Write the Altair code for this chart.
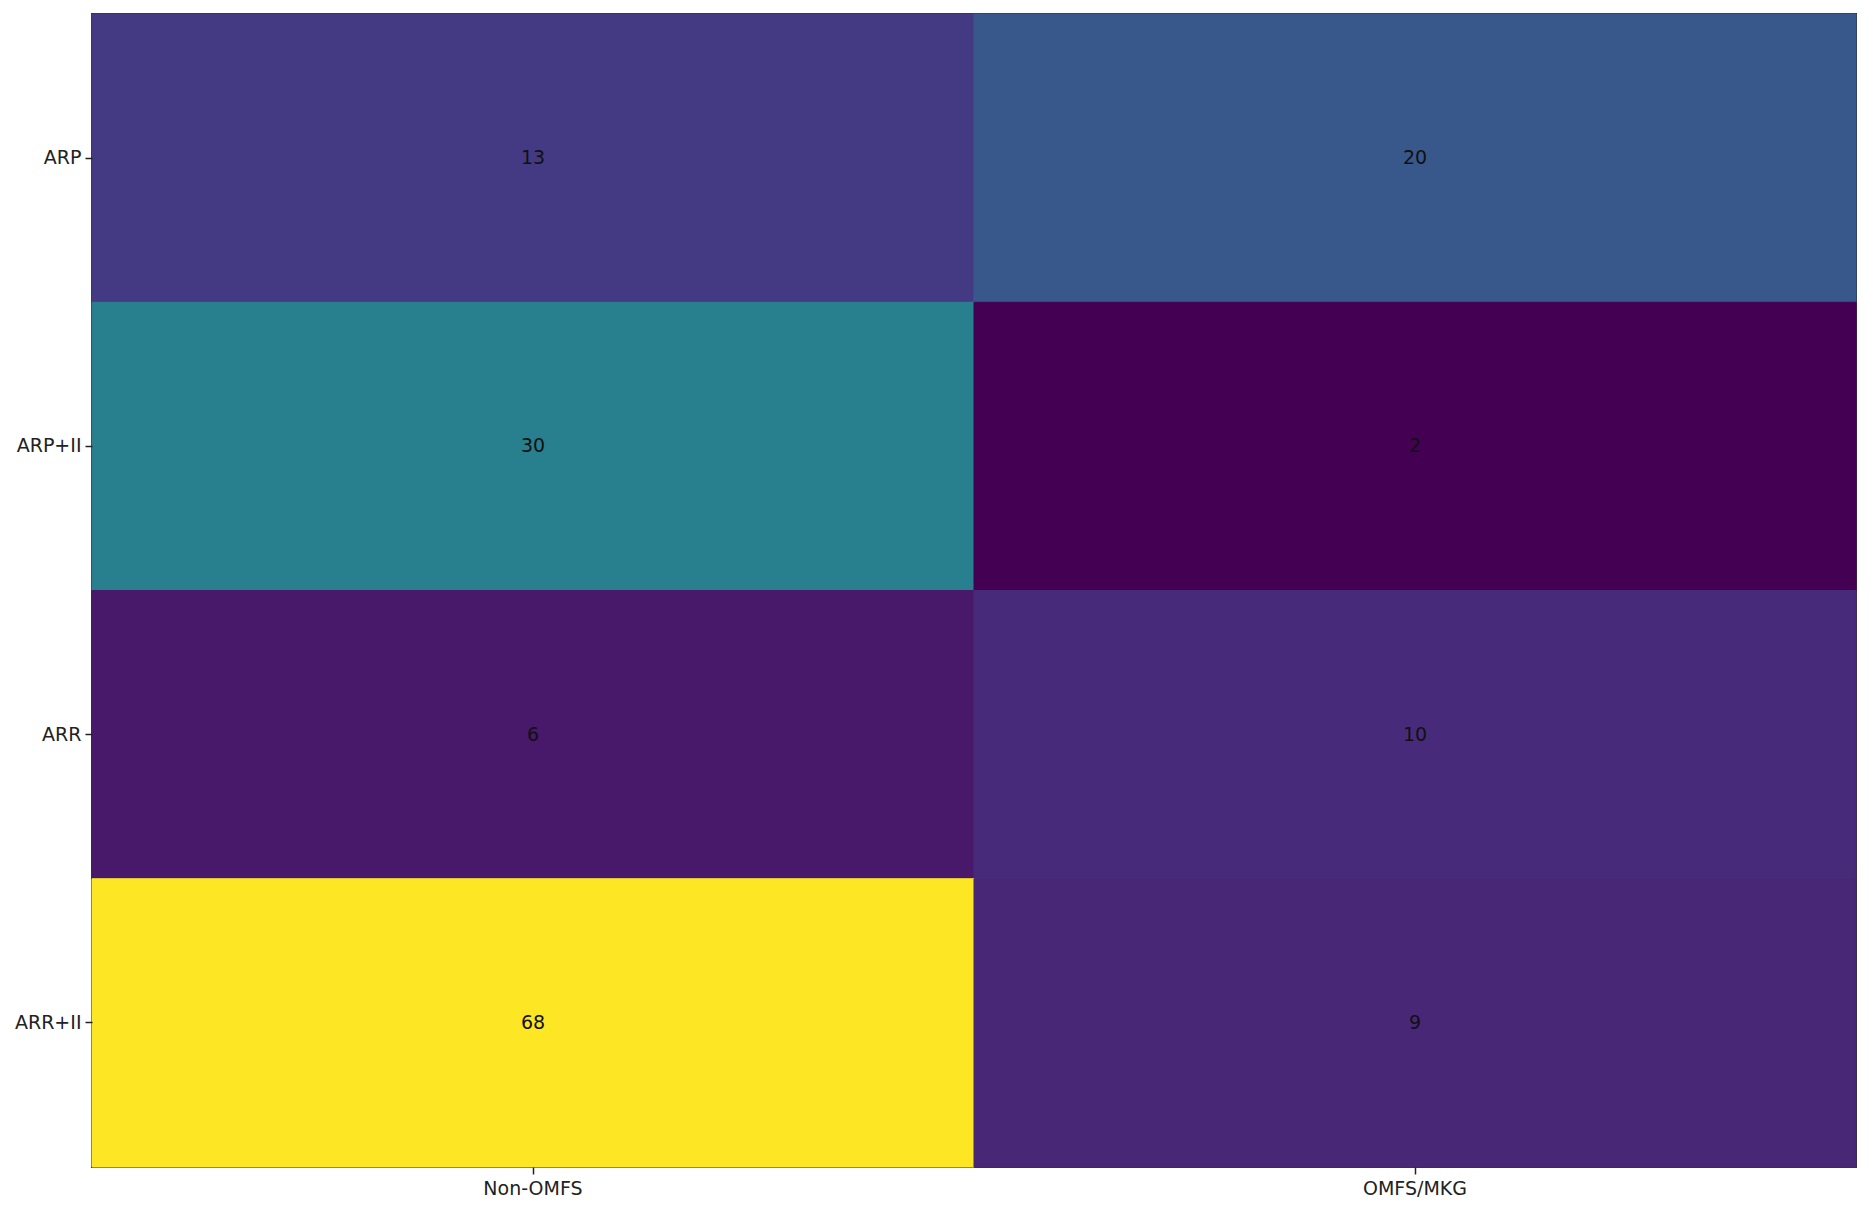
import altair as alt
import pandas as pd

rows = ["ARP", "ARP+II", "ARR", "ARR+II"]
cols = ["Non-OMFS", "OMFS/MKG"]
non_omfs = [13, 30, 6, 68]
omfs_mkg = [20, 2, 10, 9]

records = []
for r, a, b in zip(rows, non_omfs, omfs_mkg):
    records.append({"row": r, "col": cols[0], "value": a})
    records.append({"row": r, "col": cols[1], "value": b})
df = pd.DataFrame(records)

FONT = "DejaVu Sans"
FS = 19

base = alt.Chart(df).encode(
    x=alt.X("col:N", sort=cols, title=None,
            scale=alt.Scale(paddingInner=0, paddingOuter=0),
            axis=alt.Axis(labelAngle=0, labelFont=FONT, labelFontSize=FS,
                          labelColor="#222", tickColor="#222", tickSize=7,
                          tickWidth=1.5, labelPadding=5, domain=False)),
    y=alt.Y("row:N", sort=rows, title=None,
            scale=alt.Scale(paddingInner=0, paddingOuter=0),
            axis=alt.Axis(labelFont=FONT, labelFontSize=FS, labelColor="#222",
                          tickColor="#222", tickSize=7, tickWidth=1.5,
                          labelPadding=4, domain=False)),
)

cscale = alt.Scale(scheme="viridis", domain=[2, 68])
rects = base.mark_rect(strokeWidth=1).encode(
    color=alt.Color("value:Q", scale=cscale, legend=None),
    stroke=alt.Stroke("value:Q", scale=cscale, legend=None),
)

texts = base.mark_text(font=FONT, fontSize=FS, color="#111").encode(
    text=alt.Text("value:Q")
)

chart = (rects + texts).properties(
    width=1764, height=1153,
    autosize=alt.AutoSizeParams(type="none"),
    padding={"left": 84, "top": 6, "right": 6, "bottom": 40},
).configure_view(stroke="#333", strokeWidth=2)

chart.save("out.html", embed_options={"renderer": "svg", "actions": False})
